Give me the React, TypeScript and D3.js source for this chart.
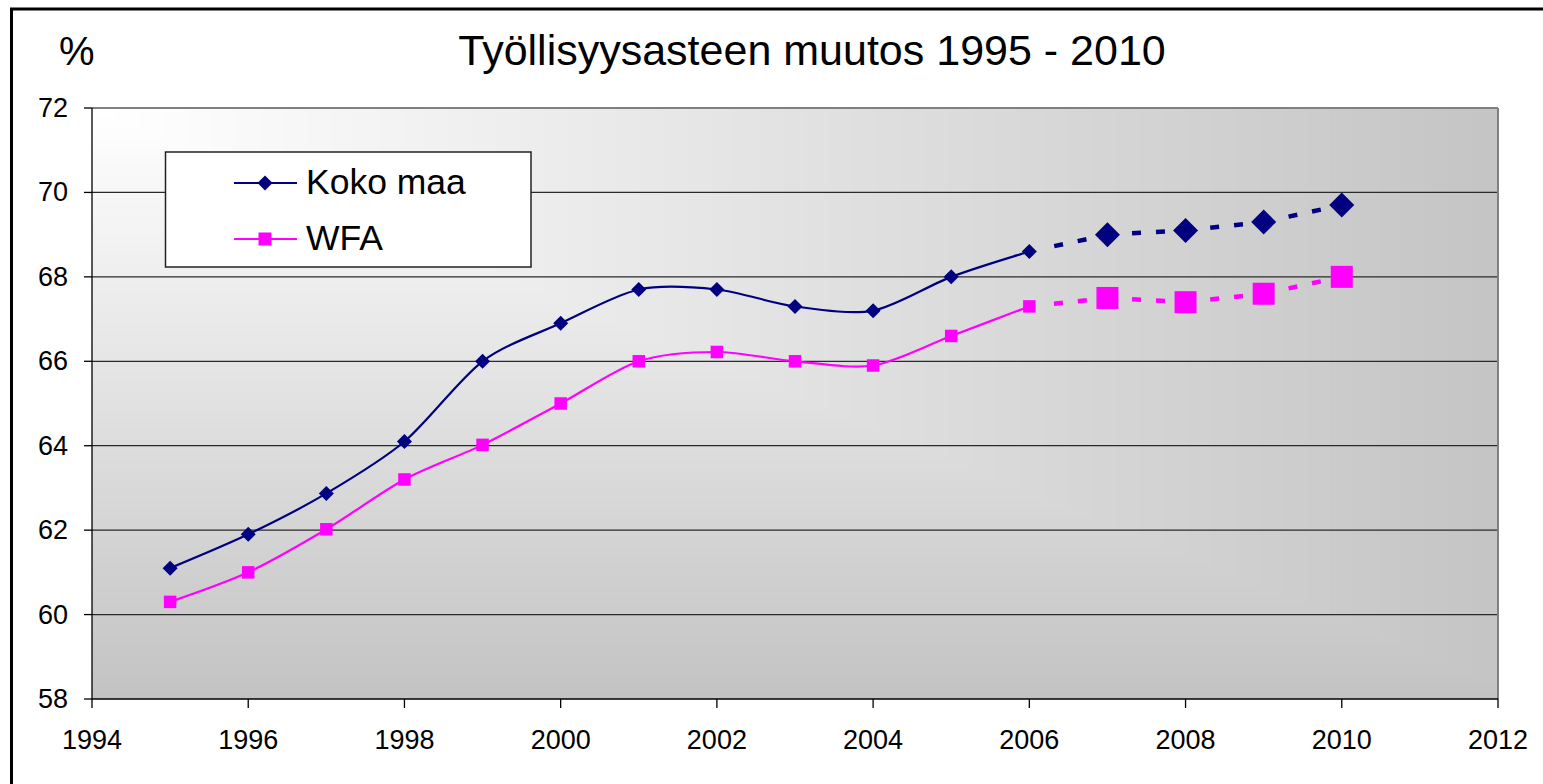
import React from "react";
import * as d3 from "d3";

const years = [1995, 1996, 1997, 1998, 1999, 2000, 2001, 2002, 2003, 2004, 2005, 2006, 2007, 2008, 2009, 2010];
const kokoMaa = [61.1, 61.9, 62.87, 64.1, 66.0, 66.9, 67.7, 67.7, 67.3, 67.2, 68.0, 68.6, 69.0, 69.1, 69.3, 69.7];
const wfa = [60.3, 61.0, 62.02, 63.2, 64.02, 65.0, 66.0, 66.22, 66.0, 65.9, 66.6, 67.3, 67.5, 67.4, 67.6, 68.0];
const lastActualYear = 2006;
const xTicks = [1994, 1996, 1998, 2000, 2002, 2004, 2006, 2008, 2010, 2012];
const yTicks = [58, 60, 62, 64, 66, 68, 70, 72];
const seriesNames = ["Koko maa", "WFA"];
const title = "Työllisyysasteen muutos 1995 - 2010";

const W = 1543, H = 784;
const L = 92, R = 1498, T = 108, B = 699;
const FONT = "'Liberation Sans', Arial, Helvetica, sans-serif";

type Pt = { year: number; v: number };

function Marker({ kind, x, y, big }: { kind: "diamond" | "square"; x: number; y: number; big: boolean }) {
  if (kind === "diamond") {
    const r = big ? 12.5 : 7.5;
    return <path d={`M${x},${y - r}L${x + r},${y}L${x},${y + r}L${x - r},${y}Z`} fill="#000080" />;
  }
  const s = big ? 22 : 12.5;
  return <rect x={x - s / 2} y={y - s / 2} width={s} height={s} fill="#ff00ff" />;
}

export default function App() {
  const x = d3.scaleLinear().domain([1994, 2012]).range([L, R]);
  const y = d3.scaleLinear().domain([58, 72]).range([B, T]);

  const series = [
    { name: seriesNames[0], values: kokoMaa, color: "#000080", kind: "diamond" as const },
    { name: seriesNames[1], values: wfa, color: "#ff00ff", kind: "square" as const },
  ];

  const line = d3
    .line<Pt>()
    .x((d) => x(d.year))
    .y((d) => y(d.v))
    .curve(d3.curveCardinal.tension(0.15));

  // rectangular "from corner" background gradient bands
  const N = 63;
  const a = 1500, b = 615;
  const col = d3.interpolateRgb("#ffffff", "#c0c0c0");
  const bands = d3.range(N, 0, -1).map((i) => ({ t: i / N, c: col((i - 0.5) / N) }));

  return (
    <svg width={W} height={H} style={{ position: "fixed", left: 0, top: 0, background: "#fff" }} fontFamily={FONT}>
      <defs>
        <clipPath id="plotClip">
          <rect x={L} y={T} width={R - L} height={B - T} />
        </clipPath>
      </defs>
      {/* outer frame */}
      <rect x={11.5} y={9} width={W + 20} height={H + 20} fill="#fff" stroke="#000" strokeWidth={3} />

      {/* plot area background */}
      <g clipPath="url(#plotClip)">
        <rect x={L} y={T} width={R - L} height={B - T} fill="#c0c0c0" />
        {bands.map((bd, i) => (
          <rect key={i} x={L} y={T} width={a * bd.t} height={b * bd.t} fill={bd.c} />
        ))}
      </g>

      {/* gridlines */}
      {yTicks.filter((v) => v !== 72 && v !== 58).map((v) => (
        <line key={v} x1={L} x2={R} y1={y(v)} y2={y(v)} stroke="#2a2a2a" strokeWidth={1.3} />
      ))}
      {/* plot border (top/right gray) */}
      <line x1={L} x2={R} y1={T} y2={T} stroke="#808080" strokeWidth={2} />
      <line x1={R} x2={R} y1={T} y2={B} stroke="#808080" strokeWidth={2} />

      {/* axes */}
      <line x1={L} x2={L} y1={T} y2={B} stroke="#000" strokeWidth={1.3} />
      <line x1={L} x2={R} y1={B} y2={B} stroke="#000" strokeWidth={1.3} />
      {yTicks.map((v) => (
        <g key={v}>
          <line x1={L - 8} x2={L} y1={y(v)} y2={y(v)} stroke="#000" strokeWidth={1.3} />
          <text x={68} y={y(v) + 9} textAnchor="end" fontSize={27} fill="#000">
            {v}
          </text>
        </g>
      ))}
      {xTicks.map((v) => (
        <g key={v}>
          <line x1={x(v)} x2={x(v)} y1={B} y2={B + 9} stroke="#000" strokeWidth={1.3} />
          <text x={x(v)} y={749} textAnchor="middle" fontSize={27} fill="#000">
            {v}
          </text>
        </g>
      ))}

      {/* series */}
      {series.map((s) => {
        const pts: Pt[] = years.map((yr, i) => ({ year: yr, v: s.values[i] }));
        const actual = pts.filter((p) => p.year <= lastActualYear);
        const forecast = pts.filter((p) => p.year >= lastActualYear);
        return (
          <g key={s.name}>
            <path d={line(actual) || ""} fill="none" stroke={s.color} strokeWidth={2.2} />
            {forecast.slice(1).map((p, i) => {
              const p0 = forecast[i];
              const x0 = x(p0.year), y0 = y(p0.v), x1 = x(p.year), y1 = y(p.v);
              const len = Math.hypot(x1 - x0, y1 - y0);
              const dash = 9, gap = 15;
              const g1 = (len - (2 * dash + gap)) / 2 + 2;
              return (
                <line
                  key={p.year}
                  x1={x0}
                  y1={y0}
                  x2={x1}
                  y2={y1}
                  stroke={s.color}
                  strokeWidth={4.5}
                  strokeDasharray={`0 ${g1} ${dash} ${gap} ${dash} ${len}`}
                />
              );
            })}
            {pts.map((p) => (
              <Marker key={p.year} kind={s.kind} x={x(p.year)} y={y(p.v)} big={p.year > lastActualYear} />
            ))}
          </g>
        );
      })}

      {/* legend */}
      <rect x={165.5} y={152} width={365.5} height={115} fill="#fff" stroke="#222" strokeWidth={1.5} />
      {series.map((s, i) => {
        const ly = [183, 239][i];
        return (
          <g key={s.name}>
            <line x1={234} x2={297} y1={ly} y2={ly} stroke={s.color} strokeWidth={2.2} />
            {s.kind === "diamond" ? (
              <path d={`M265,${ly - 7.5}L272.5,${ly}L265,${ly + 7.5}L257.5,${ly}Z`} fill={s.color} />
            ) : (
              <rect x={258.5} y={ly - 6.5} width={13} height={13} fill={s.color} />
            )}
            <text x={306} y={ly + 11} fontSize={35.5} fill="#000">
              {s.name}
            </text>
          </g>
        );
      })}

      {/* titles */}
      <text x={812} y={65} textAnchor="middle" fontSize={43} fill="#000">
        {title}
      </text>
      <text x={59} y={65} fontSize={40} fill="#000">
        %
      </text>
    </svg>
  );
}
